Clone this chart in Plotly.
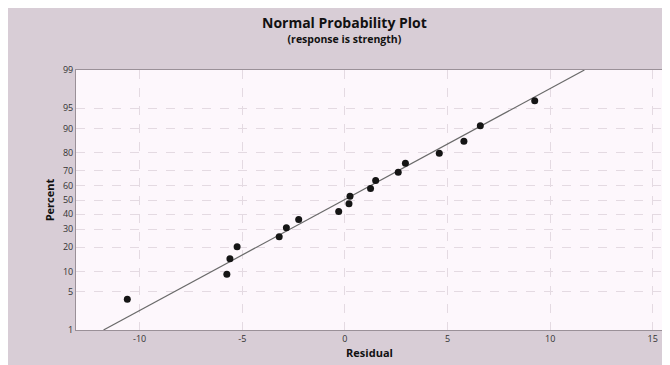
import plotly.graph_objects as go
from statistics import NormalDist, mean, stdev

# Data
residuals = [-10.6, -5.75, -5.6, -5.25, -3.2, -2.85, -2.25, -0.3, 0.2, 0.25,
             1.25, 1.5, 2.6, 2.95, 4.6, 5.8, 6.6, 9.25]
percents = [3.8, 9.2, 14.7, 20.1, 25.5, 31.0, 36.4, 41.8, 47.3, 52.7,
            58.2, 63.6, 69.0, 74.5, 79.9, 85.3, 90.8, 96.2]
y_tick_percents = [1, 5, 10, 20, 30, 40, 50, 60, 70, 80, 90, 95, 99]
x_ticks = [-10, -5, 0, 5, 10, 15]
title_text = "Normal Probability Plot"
subtitle_text = "(response is strength)"

nd = NormalDist()


def z(p):
    return nd.inv_cdf(p / 100.0)


# Fitted normal line from residual mean / sd
mu = mean(residuals)
sd = stdev(residuals)
line_p = [y_tick_percents[0], y_tick_percents[-1]]
line_x = [mu + sd * z(p) for p in line_p]
line_y = [z(p) for p in line_p]

fig = go.Figure()
fig.add_trace(go.Scatter(
    x=line_x, y=line_y, mode="lines",
    line=dict(color="#6a6a6a", width=1.2),
    hoverinfo="skip", showlegend=False))
fig.add_trace(go.Scatter(
    x=residuals, y=[z(p) for p in percents], mode="markers",
    marker=dict(color="#151515", size=7),
    showlegend=False))

font = "Open Sans, Noto Sans, DejaVu Sans, sans-serif"
fig.update_layout(
    width=670, height=365,
    margin=dict(l=68, r=15, t=62, b=43),
    paper_bgcolor="#d8cdd6",
    plot_bgcolor="#fdf7fc",
    font=dict(family=font, color="#222"),
    showlegend=False,
    annotations=[
        dict(text="<span style='font-size:14px'><b>" + title_text
                  + "</b></span><br><span style='font-size:10.5px'><b>"
                  + subtitle_text + "</b></span>",
             xref="paper", yref="paper",
             x=0.458, y=1.0, yshift=41, xanchor="center", yanchor="middle",
             align="center", showarrow=False,
             font=dict(size=11.5, color="#111")),
    ],
)
fig.update_xaxes(
    range=[-13.1, 15.5], tickvals=x_ticks, ticktext=[str(v) for v in x_ticks],
    showgrid=True, gridcolor="#e4dae2", griddash="dash", gridwidth=1,
    zeroline=False, showline=True, linecolor="#9a9098", mirror=True,
    tickfont=dict(size=9, color="#333"), ticks="",
    title=dict(text="<b>Residual</b>", font=dict(size=11, color="#111"), standoff=4),
)
fig.update_yaxes(
    range=[z(y_tick_percents[0]), z(y_tick_percents[-1])],
    tickvals=[z(p) for p in y_tick_percents],
    ticktext=[str(p) for p in y_tick_percents],
    showgrid=True, gridcolor="#e4dae2", griddash="dash", gridwidth=1,
    zeroline=False, showline=True, linecolor="#9a9098", mirror=True,
    tickfont=dict(size=9, color="#333"), ticks="",
    title=dict(text="<b>Percent</b>", font=dict(size=11, color="#111"), standoff=6),
)

fig.write_html("out.html")
